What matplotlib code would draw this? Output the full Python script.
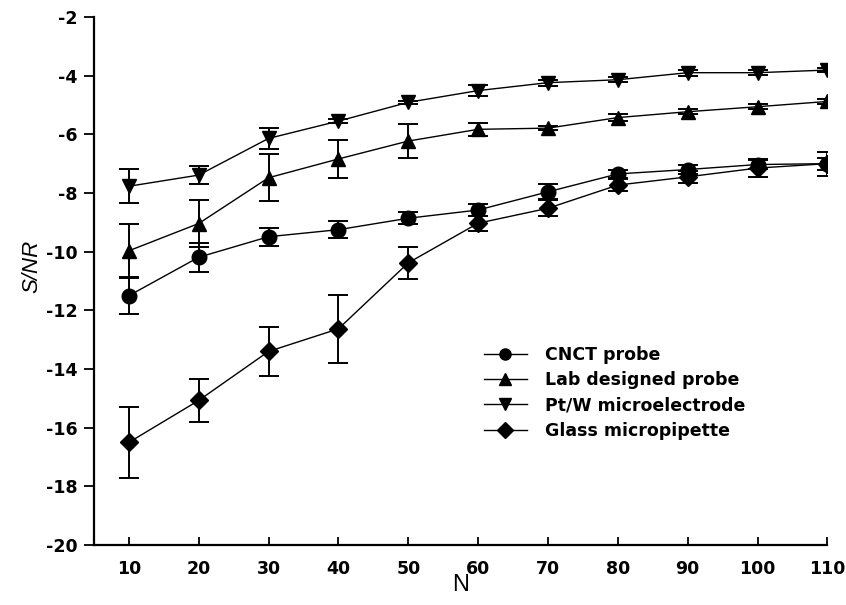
import matplotlib
matplotlib.use("Agg")
import matplotlib.pyplot as plt

plt.rcParams['font.family'] = ['Liberation Sans', 'DejaVu Sans']
plt.rcParams['axes.unicode_minus'] = False

N = [10, 20, 30, 40, 50, 60, 70, 80, 90, 100, 110]

labels = ["CNCT probe", "Lab designed probe", "Pt/W microelectrode", "Glass micropipette"]

cnct = [-11.50, -10.19, -9.49, -9.25, -8.86, -8.58, -7.96, -7.35, -7.20, -7.03, -7.00]
cnct_err = [0.63, 0.50, 0.30, 0.28, 0.21, 0.20, 0.25, 0.15, 0.15, 0.15, 0.20]

lab = [-9.97, -9.04, -7.48, -6.84, -6.23, -5.83, -5.79, -5.43, -5.23, -5.06, -4.88]
lab_err = [0.93, 0.80, 0.80, 0.65, 0.57, 0.22, 0.06, 0.12, 0.08, 0.08, 0.08]

ptw = [-7.77, -7.39, -6.14, -5.55, -4.91, -4.51, -4.24, -4.14, -3.90, -3.90, -3.81]
ptw_err = [0.58, 0.30, 0.37, 0.06, 0.06, 0.20, 0.10, 0.08, 0.10, 0.08, 0.08]

glass = [-16.50, -15.07, -13.40, -12.63, -10.38, -9.03, -8.52, -7.73, -7.45, -7.15, -7.00]
glass_err = [1.20, 0.72, 0.82, 1.15, 0.55, 0.25, 0.28, 0.20, 0.20, 0.30, 0.41]

series = [(cnct, cnct_err, 'o', 10.5), (lab, lab_err, '^', 10.5),
          (ptw, ptw_err, 'v', 10.5), (glass, glass_err, 'D', 9.5)]

fig = plt.figure(figsize=(8.46, 6.05), dpi=100)
ax = fig.add_axes([0.111, 0.099, 0.867, 0.873])

handles = []
for (vals, errs, mk, ms), lab_txt in zip(series, labels):
    ax.errorbar(N, vals, yerr=errs, fmt='none', ecolor='black', elinewidth=1.4,
                capsize=7, capthick=1.4, zorder=2)
    ax.plot(N, vals, color='black', lw=1.0, marker=mk, markersize=ms,
            markerfacecolor='black', markeredgecolor='black', zorder=3)
    h, = ax.plot([], [], color='black', lw=1.0, marker=mk, markersize=8,
                 markerfacecolor='black', markeredgecolor='black')
    handles.append(h)

ax.set_xlim(5, 110)
ax.set_ylim(-20, -2)
ax.set_xticks(N)
ax.set_yticks(range(-20, -1, 2))
ax.spines['top'].set_visible(False)
ax.spines['right'].set_visible(False)
for s in ['left', 'bottom']:
    ax.spines[s].set_linewidth(1.6)
ax.tick_params(axis='x', direction='in', length=6, width=1.3, pad=11, labelsize=12.5)
ax.tick_params(axis='y', direction='out', length=7, width=1.3, pad=5, labelsize=12.5)
for t in ax.get_xticklabels() + ax.get_yticklabels():
    t.set_fontweight('bold')
    t.set_family(['DejaVu Sans'])

ax.set_xlabel('N', fontsize=17, labelpad=-3)
ax.set_ylabel('S/NR', fontsize=16, style='italic')
ax.yaxis.set_label_coords(-0.07, 0.527)

leg = ax.legend(handles, labels, loc='upper left', bbox_to_anchor=(0.5315, 0.377),
                frameon=False, borderpad=0, borderaxespad=0,
                handlelength=2.5, handletextpad=1.0, labelspacing=0.42,
                prop={'weight': 'bold', 'size': 12.5, 'family': ['DejaVu Sans']})

fig.savefig('out.png', dpi=100)
